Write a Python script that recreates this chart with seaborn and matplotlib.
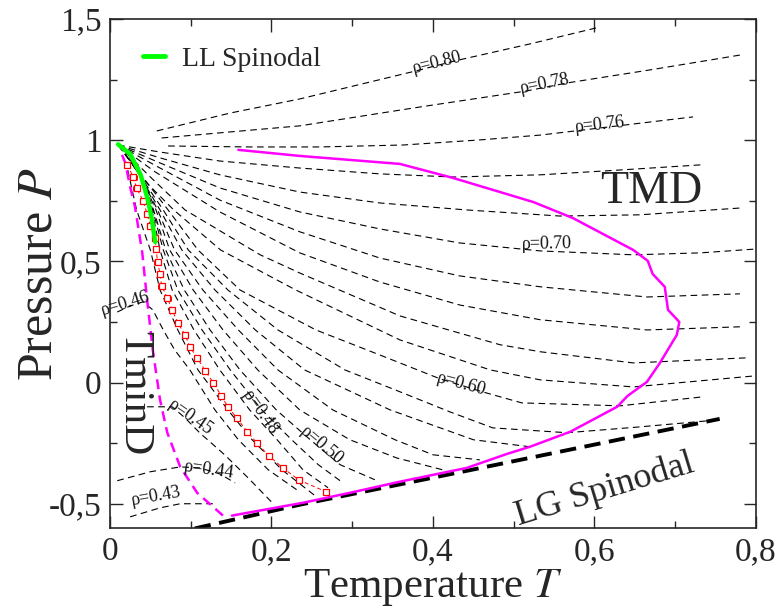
import matplotlib
matplotlib.use("Agg")
import matplotlib.pyplot as plt
from matplotlib.lines import Line2D
from matplotlib.ticker import FixedLocator, MultipleLocator
import pandas as pd
import seaborn as sns

# isochores, pressure P against temperature T
T_080 = [0.058, 0.149, 0.235, 0.378, 0.427, 0.520, 0.607]
P_080 = [1.038, 1.112, 1.170, 1.285, 1.327, 1.397, 1.467]
T_078 = [0.064, 0.149, 0.235, 0.384, 0.516, 0.566, 0.669, 0.780]
P_078 = [1.009, 1.034, 1.059, 1.137, 1.203, 1.236, 1.290, 1.351]
T_076 = [0.072, 0.173, 0.260, 0.363, 0.458, 0.533, 0.586, 0.722]
P_076 = [0.976, 0.972, 0.972, 0.980, 1.001, 1.021, 1.042, 1.096]
T_074 = [0.010, 0.062, 0.136, 0.235, 0.334, 0.425, 0.533, 0.632, 0.731]
P_074 = [0.980, 0.951, 0.914, 0.885, 0.861, 0.848, 0.857, 0.877, 0.898]
T_072 = [0.010, 0.062, 0.136, 0.235, 0.334, 0.442, 0.557, 0.656, 0.780]
P_072 = [0.980, 0.927, 0.857, 0.786, 0.741, 0.712, 0.687, 0.692, 0.720]
T_070 = [0.010, 0.062, 0.136, 0.235, 0.334, 0.433, 0.533, 0.648, 0.731, 0.800]
P_070 = [0.980, 0.906, 0.803, 0.704, 0.634, 0.576, 0.543, 0.527, 0.535, 0.551]
T_068 = [0.010, 0.062, 0.136, 0.235, 0.334, 0.433, 0.533, 0.665, 0.780]
P_068 = [0.980, 0.885, 0.753, 0.622, 0.514, 0.440, 0.395, 0.353, 0.366]
T_066 = [0.010, 0.056, 0.136, 0.235, 0.334, 0.433, 0.533, 0.665, 0.780]
P_066 = [0.980, 0.869, 0.704, 0.535, 0.415, 0.320, 0.259, 0.217, 0.230]
T_064 = [0.010, 0.050, 0.093, 0.186, 0.235, 0.359, 0.483, 0.533, 0.648, 0.789]
P_064 = [0.980, 0.848, 0.712, 0.527, 0.452, 0.275, 0.156, 0.127, 0.081, 0.102]
T_062 = [0.010, 0.043, 0.079, 0.137, 0.230, 0.359, 0.471, 0.533, 0.648, 0.800]
P_062 = [0.980, 0.832, 0.712, 0.547, 0.382, 0.176, 0.052, 0.011, -0.018, 0.028]
T_060 = [0.010, 0.072, 0.109, 0.161, 0.255, 0.334, 0.409, 0.461, 0.510, 0.632, 0.734]
P_060 = [0.980, 0.712, 0.547, 0.382, 0.217, 0.114, 0.015, -0.038, -0.084, -0.096, -0.059]
T_058 = [0.012, 0.066, 0.097, 0.146, 0.208, 0.291, 0.359, 0.421, 0.474, 0.566, 0.656, 0.753]
P_058 = [0.976, 0.712, 0.547, 0.382, 0.217, 0.052, -0.038, -0.121, -0.187, -0.207, -0.183, -0.154]
T_056 = [0.017, 0.062, 0.089, 0.130, 0.180, 0.241, 0.347, 0.450, 0.520]
P_056 = [0.964, 0.712, 0.547, 0.382, 0.217, 0.052, -0.113, -0.236, -0.265]
T_054 = [0.022, 0.059, 0.080, 0.115, 0.159, 0.208, 0.276, 0.353, 0.400, 0.458]
P_054 = [0.951, 0.712, 0.547, 0.382, 0.217, 0.052, -0.113, -0.236, -0.298, -0.319]
T_052 = [0.028, 0.057, 0.074, 0.103, 0.140, 0.183, 0.235, 0.297, 0.355, 0.412]
P_052 = [0.927, 0.712, 0.547, 0.382, 0.217, 0.052, -0.113, -0.236, -0.311, -0.360]
T_050 = [0.035, 0.054, 0.069, 0.092, 0.124, 0.161, 0.206, 0.248, 0.285, 0.328]
P_050 = [0.894, 0.712, 0.547, 0.382, 0.217, 0.052, -0.113, -0.236, -0.339, -0.401]
T_049 = [0.038, 0.053, 0.066, 0.084, 0.114, 0.149, 0.188, 0.225, 0.258, 0.287]
P_049 = [0.857, 0.712, 0.547, 0.382, 0.217, 0.052, -0.113, -0.236, -0.339, -0.410]
T_048 = [0.043, 0.052, 0.062, 0.077, 0.104, 0.136, 0.173, 0.207, 0.239, 0.270]
P_048 = [0.803, 0.712, 0.547, 0.382, 0.217, 0.052, -0.113, -0.236, -0.360, -0.434]
T_047 = [0.022, 0.033, 0.050, 0.062, 0.084, 0.109, 0.146, 0.176, 0.213, 0.254]
P_047 = [0.877, 0.712, 0.547, 0.382, 0.217, 0.052, -0.113, -0.236, -0.360, -0.467]
T_046 = [0.009, 0.025, 0.041, 0.053, 0.066, 0.080, 0.099, 0.130, 0.159, 0.196, 0.235]
P_046 = [0.291, 0.316, 0.333, 0.300, 0.217, 0.135, 0.052, -0.113, -0.236, -0.360, -0.451]
T_045 = [0.046, 0.077, 0.093, 0.111, 0.142, 0.171, 0.201]
P_045 = [-0.100, -0.100, -0.146, -0.207, -0.298, -0.393, -0.496]
T_044 = [0.009, 0.050, 0.087, 0.111, 0.136, 0.155]
P_044 = [-0.405, -0.368, -0.348, -0.352, -0.377, -0.414]
T_043 = [0.025, 0.062, 0.087, 0.128]
P_043 = [-0.554, -0.517, -0.500, -0.500]

# temperature of maximum / minimum density
T_tmd = [0.159, 0.235, 0.359, 0.425, 0.524, 0.573, 0.648, 0.666, 0.672, 0.687, 0.691,
         0.705, 0.702, 0.681, 0.665, 0.641, 0.628, 0.570, 0.520, 0.492, 0.442, 0.359,
         0.297, 0.239, 0.151]
P_tmd = [0.960, 0.935, 0.902, 0.844, 0.745, 0.679, 0.547, 0.502, 0.448, 0.395, 0.300,
         0.250, 0.197, 0.081, 0.003, -0.055, -0.100, -0.203, -0.265, -0.294, -0.352,
         -0.409, -0.455, -0.496, -0.549]
T_tmind = [0.015, 0.019, 0.025, 0.031, 0.040, 0.046, 0.053, 0.062, 0.071, 0.087, 0.108, 0.140]
P_tmind = [0.939, 0.906, 0.807, 0.725, 0.535, 0.341, 0.135, -0.071, -0.207, -0.348, -0.455, -0.549]

# spinodals
T_ll = [0.010, 0.025, 0.038, 0.047, 0.052, 0.056]
P_ll = [0.983, 0.943, 0.857, 0.754, 0.671, 0.580]
T_lg = [0.105, 0.235, 0.442, 0.755]
P_lg = [-0.602, -0.504, -0.364, -0.150]

# red points with error bars
T_red = [0.021, 0.029, 0.033, 0.041, 0.046, 0.050, 0.056, 0.057, 0.059, 0.062, 0.064,
         0.071, 0.077, 0.084, 0.093, 0.099, 0.108, 0.118, 0.128, 0.138, 0.146, 0.157,
         0.170, 0.182, 0.197, 0.214, 0.234, 0.268]
P_red = [0.898, 0.848, 0.803, 0.750, 0.696, 0.647, 0.597, 0.552, 0.498, 0.448, 0.399,
         0.349, 0.300, 0.246, 0.197, 0.147, 0.102, 0.048, -0.001, -0.055, -0.100, -0.146,
         -0.203, -0.249, -0.303, -0.352, -0.402, -0.451]
err_red = [0.004] * 14 + [0.002] * 14

rho_values = [0.80, 0.78, 0.76, 0.74, 0.72, 0.70, 0.68, 0.66, 0.64, 0.62, 0.60, 0.58,
              0.56, 0.54, 0.52, 0.50, 0.49, 0.48, 0.47, 0.46, 0.45, 0.44, 0.43]
rho_T = [T_080, T_078, T_076, T_074, T_072, T_070, T_068, T_066, T_064, T_062, T_060, T_058,
         T_056, T_054, T_052, T_050, T_049, T_048, T_047, T_046, T_045, T_044, T_043]
rho_P = [P_080, P_078, P_076, P_074, P_072, P_070, P_068, P_066, P_064, P_062, P_060, P_058,
         P_056, P_054, P_052, P_050, P_049, P_048, P_047, P_046, P_045, P_044, P_043]

# isochore labels
label_text = ["ρ=0.80", "ρ=0.78", "ρ=0.76", "ρ=0.70", "ρ=0.60", "ρ=0.50",
              "ρ=0.48", "ρ=0.46", "ρ=0.45", "ρ=0.44", "ρ=0.43"]
label_T = [0.405, 0.539, 0.607, 0.541, 0.435, 0.262, 0.186, 0.019, 0.099, 0.123, 0.057]
label_P = [1.318, 1.232, 1.063, 0.571, -0.009, -0.261, -0.125, 0.328, -0.146, -0.360, -0.471]
label_rot = [14, 11, 6, 1, -15, -40, -55, 17, -35, -8, 10]

x_ticks = [0.0, 0.2, 0.4, 0.6, 0.8]
x_tick_labels = ["0", "0,2", "0,4", "0,6", "0,8"]
y_ticks = [-0.5, 0.0, 0.5, 1.0, 1.5]
y_tick_labels = ["-0,5", "0", "0,5", "1", "1,5"]

sns.set_style("ticks")
plt.rcParams["font.family"] = ["Liberation Serif", "DejaVu Serif"]
plt.rcParams["mathtext.fontset"] = "stix"

fig = plt.figure(figsize=(7.81, 6.14), dpi=100)
ax = fig.add_axes([0.1408, 0.1401, 0.8272, 0.8290])

rows = []
for rho, ts, ps in zip(rho_values, rho_T, rho_P):
    for i, (t, p) in enumerate(zip(ts, ps)):
        rows.append({"rho": rho, "idx": i, "T": t, "P": p})
df_iso = pd.DataFrame(rows)

sns.lineplot(data=df_iso, x="T", y="P", units="rho", estimator=None, sort=False,
             color="black", lw=0.8, linestyle=(0, (6, 4)), ax=ax, legend=False)

# LG spinodal
sns.lineplot(x=T_lg, y=P_lg, sort=False, estimator=None, color="black", lw=2.8,
             linestyle=(0, (4.2, 2.2)), ax=ax)
# TMD and TminD
sns.lineplot(x=T_tmd, y=P_tmd, sort=False, estimator=None, color="#ff00ff", lw=1.8, ax=ax)
sns.lineplot(x=T_tmind, y=P_tmind, sort=False, estimator=None, color="#ff00ff", lw=1.8,
             linestyle=(0, (4, 2.5)), ax=ax)
# red points
ax.errorbar(T_red, P_red, xerr=err_red, fmt="none", ecolor="red", elinewidth=0.7,
            capsize=1.8, capthick=0.7)
sns.lineplot(x=T_red, y=P_red, sort=False, estimator=None, color="red", lw=0.7,
             linestyle=(0, (4, 3)), marker="s", markersize=4, markerfacecolor="white",
             markeredgecolor="red", markeredgewidth=0.9, ax=ax)
# LL spinodal
sns.lineplot(x=T_ll, y=P_ll, sort=False, estimator=None, color="#00ff00", lw=3.2, ax=ax)

for txt, t, p, r in zip(label_text, label_T, label_P, label_rot):
    ax.text(t, p, txt, fontsize=13, rotation=r, rotation_mode="anchor",
            ha="center", va="center", color="#111111")

ax.text(0.670, 0.786, "TMD", fontsize=33, ha="center", va="center")
ax.text(0.030, -0.043, "TminD", fontsize=31, rotation=270, ha="center", va="center")
ax.text(0.613, -0.442, "LG Spinodal", fontsize=26, rotation=17, ha="center", va="center")

handle = Line2D([], [], color="#00ff00", lw=3.5)
ax.legend([handle], ["LL Spinodal"], loc="upper left", bbox_to_anchor=(0.012, 0.995),
          frameon=False, fontsize=20, handlelength=0.8, handletextpad=0.6)

ax.set_xlim(0, 0.8)
ax.set_ylim(-0.6, 1.5)
ax.xaxis.set_major_locator(FixedLocator(x_ticks))
ax.set_xticklabels(x_tick_labels)
ax.yaxis.set_major_locator(FixedLocator(y_ticks))
ax.set_yticklabels(y_tick_labels)
ax.xaxis.set_minor_locator(MultipleLocator(0.1))
ax.yaxis.set_minor_locator(MultipleLocator(0.25))
ax.tick_params(which="both", direction="in", top=True, right=True, width=1.0,
               labelsize=24)
ax.tick_params(which="major", length=9, pad=6)
ax.tick_params(which="minor", length=5)
for s in ax.spines.values():
    s.set_linewidth(1.2)

ax.set_xlabel("Temperature $T$", fontsize=31, labelpad=0)
ax.set_ylabel("Pressure $P$", fontsize=36, labelpad=-10)

fig.savefig("out.png", dpi=100)
plt.close(fig)
